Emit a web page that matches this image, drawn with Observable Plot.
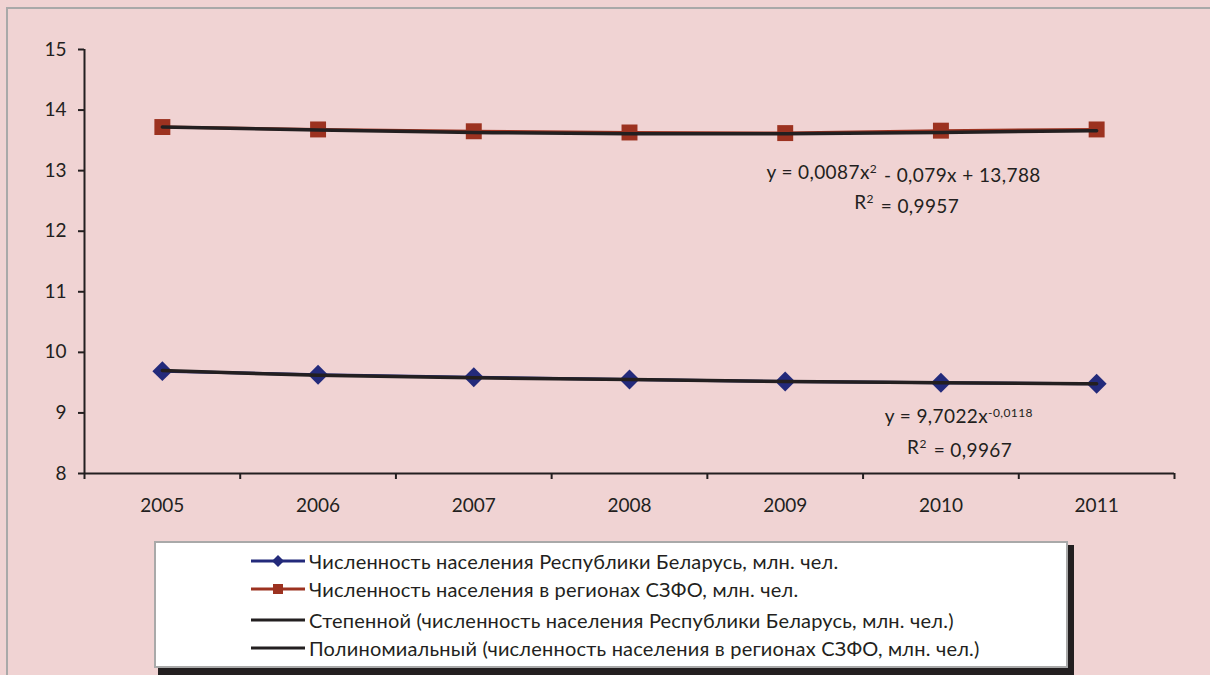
<!DOCTYPE html>
<html>
<head>
<meta charset="utf-8">
<script src="https://cdn.jsdelivr.net/npm/d3@7"></script>
<script src="https://cdn.jsdelivr.net/npm/@observablehq/plot@0.6"></script>
<style>
  html, body { margin: 0; padding: 0; background: #F0D3D3; }
  #wrap { position: relative; width: 1210px; height: 675px; overflow: hidden; background: #F0D3D3; font-family: Lato, "Open Sans", sans-serif; color: #231F20; }
  #frame { position: absolute; left: 6px; top: 7px; width: 1300px; height: 800px; border: 2px solid #A9A9A9; box-sizing: border-box; }
  #chart { position: absolute; left: 0; top: 0; }
  #shadow { position: absolute; left: 158px; top: 545px; width: 916px; height: 200px; background: #231F20; }
  #legend { position: absolute; left: 154px; top: 541px; width: 914px; height: 127px; background: #fff; border: 2px solid #A9A9A9; box-sizing: border-box; }
  .row { position: absolute; left: 94px; height: 30px; display: flex; align-items: center; white-space: nowrap; font-size: 20px; letter-spacing: 0.2px; }
  .row svg { margin-right: 3px; }
</style>
</head>
<body>
<div id="wrap">
  <div id="frame"></div>
  <div id="chart"></div>
  <div id="shadow"></div>
  <div id="legend"></div>
</div>
<script>
const years = [2005, 2006, 2007, 2008, 2009, 2010, 2011];
const belarus = [9.69, 9.63, 9.59, 9.55, 9.52, 9.50, 9.48];
const szfo = [13.72, 13.68, 13.65, 13.63, 13.62, 13.66, 13.68];
const belarusTrend = [9.70, 9.62, 9.58, 9.55, 9.52, 9.50, 9.48];
const szfoTrend = [13.72, 13.67, 13.63, 13.61, 13.61, 13.63, 13.66];
const yTicks = [8, 9, 10, 11, 12, 13, 14, 15];
const xBoundaries = [2004.5, 2005.5, 2006.5, 2007.5, 2008.5, 2009.5, 2010.5, 2011.5];
const seriesNames = [
  "Численность населения Республики Беларусь, млн. чел.",
  "Численность населения в регионах СЗФО, млн. чел.",
  "Степенной (численность населения Республики Беларусь, млн. чел.)",
  "Полиномиальный (численность населения в регионах СЗФО, млн. чел.)"
];
const eqSzfo = ["y = 0,0087x^2^ - 0,079x + 13,788", "R^2^ = 0,9957"];
const eqBelarus = ["y = 9,7022x^-0,0118^", "R^2^ = 0,9967"];

const navy = "#232A7B";
const red = "#9C3220";
const black = "#231F20";

const bel = years.map((y, i) => ({year: y, value: belarus[i], trend: belarusTrend[i]}));
const sz = years.map((y, i) => ({year: y, value: szfo[i], trend: szfoTrend[i]}));

const plot = Plot.plot({
  width: 1210,
  height: 530,
  marginLeft: 84,
  marginRight: 36,
  marginTop: 49,
  marginBottom: 57,
  style: {background: "transparent", fontFamily: "Lato, sans-serif", fontSize: "18px", color: black},
  x: {type: "linear", domain: [2004.5, 2011.5]},
  y: {domain: [8, 15]},
  marks: [
    Plot.ruleX([2004.5], {y1: 8, y2: 15, stroke: black, strokeWidth: 2}),
    Plot.ruleY([8], {stroke: black, strokeWidth: 2}),
    Plot.axisY({ticks: yTicks, tickSize: 6, tickPadding: 12, tickFormat: d => String(d), stroke: black, strokeWidth: 2, fill: black, fontSize: 19, label: null}),
    Plot.axisX({ticks: xBoundaries, tickSize: 6, tickFormat: () => "", stroke: black, strokeWidth: 2, label: null}),
    Plot.axisX({ticks: years, tickSize: 0, tickPadding: 25, tickFormat: d => String(d), fill: black, fontSize: 19, label: null}),
    Plot.line(bel, {x: "year", y: "value", stroke: navy, strokeWidth: 3}),
    Plot.line(sz, {x: "year", y: "value", stroke: red, strokeWidth: 3}),
    Plot.dot(bel, {x: "year", y: "value", symbol: "diamond2", r: 9, fill: navy, stroke: null}),
    Plot.dot(sz, {x: "year", y: "value", symbol: "square", r: 9, fill: red, stroke: null}),
    Plot.line(bel, {x: "year", y: "trend", stroke: black, strokeWidth: 3.5, curve: "monotone-x"}),
    Plot.line(sz, {x: "year", y: "trend", stroke: black, strokeWidth: 3.5, curve: "monotone-x"}),
    Plot.text([eqSzfo[0]], {x: 2009.76, y: 12.97, text: d => d, fontSize: 19, fill: black, className: "eq"}),
    Plot.text([eqSzfo[1]], {x: 2009.78, y: 12.46, text: d => d, fontSize: 19, fill: black, className: "eq"}),
    Plot.text([eqBelarus[0]], {x: 2010.12, y: 8.94, text: d => d, fontSize: 19, fill: black, className: "eq"}),
    Plot.text([eqBelarus[1]], {x: 2010.12, y: 8.43, text: d => d, fontSize: 19, fill: black, className: "eq"})
  ]
});
document.getElementById("chart").appendChild(plot);

// superscripts in equation texts
d3.select(plot).selectAll("g.eq text").each(function() {
  const t = this.textContent;
  const parts = t.split("^");
  const sel = d3.select(this);
  sel.text(null);
  sel.attr("letter-spacing", "0.4px");
  parts.forEach((p, i) => {
    if (!p) return;
    if (i % 2 === 1) {
      sel.append("tspan").attr("dy", "-0.5em").attr("font-size", "12px").text(p);
      sel.append("tspan").attr("dy", "0.5em").text("\u200A");
    } else {
      sel.append("tspan").text(p);
    }
  });
});

// legend
const legend = d3.select("#legend");
const rowTops = [3, 31, 62, 90];
const samples = [
  {color: navy, symbol: "diamond"},
  {color: red, symbol: "square"},
  {color: black, symbol: null},
  {color: black, symbol: null}
];
seriesNames.forEach((name, i) => {
  const row = legend.append("div").attr("class", "row").style("top", rowTops[i] + "px");
  const s = row.append("svg").attr("width", 56).attr("height", 30);
  s.append("line").attr("x1", 1).attr("x2", 55).attr("y1", 15).attr("y2", 15)
    .attr("stroke", samples[i].color).attr("stroke-width", 3);
  if (samples[i].symbol === "diamond") {
    s.append("path").attr("d", "M28,9L34,15L28,21L22,15Z").attr("fill", samples[i].color);
  } else if (samples[i].symbol === "square") {
    s.append("rect").attr("x", 23).attr("y", 10).attr("width", 10).attr("height", 10).attr("fill", samples[i].color);
  }
  row.append("span").text(name);
});
</script>
</body>
</html>
